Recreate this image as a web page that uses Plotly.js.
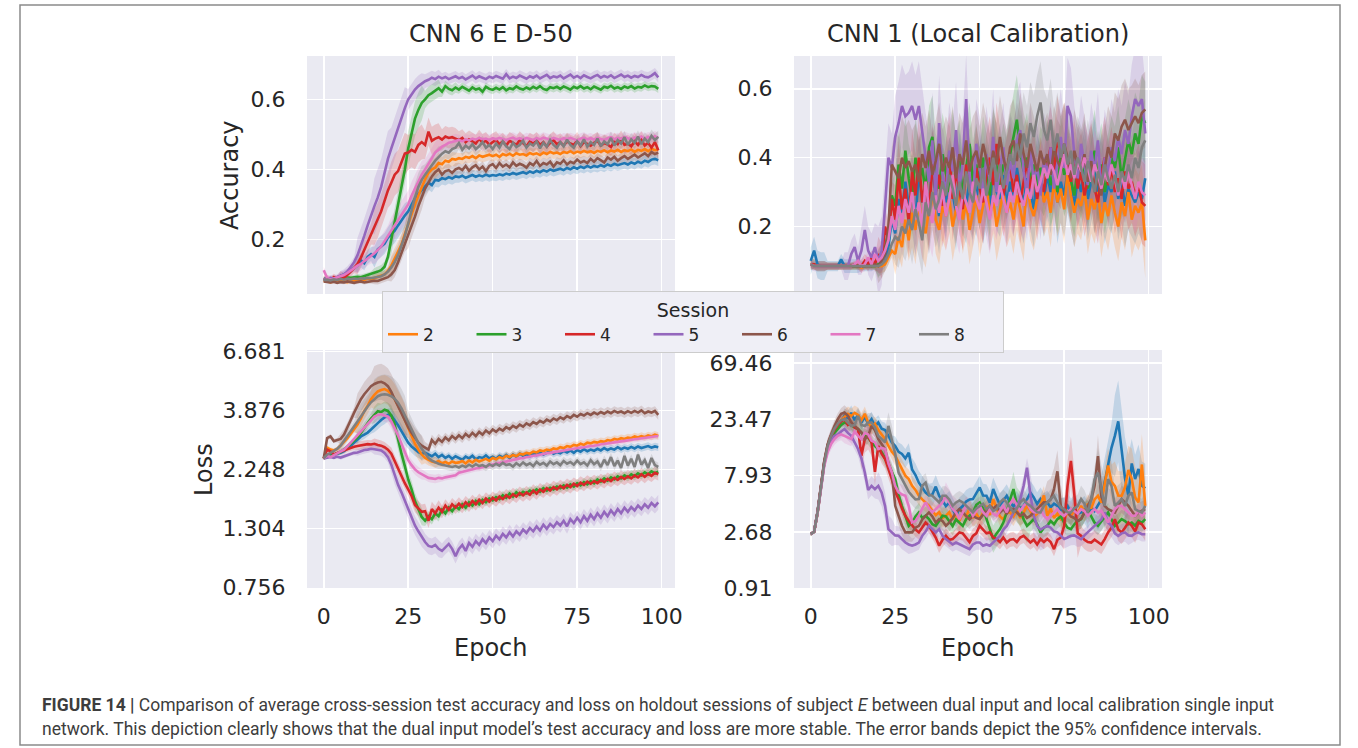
<!DOCTYPE html>
<html>
<head>
<meta charset="utf-8">
<script src="https://cdn.plot.ly/plotly-3.0.1.min.js"></script>
<style>
  html, body { margin: 0; padding: 0; background: #ffffff; }
  #chart { width: 1358px; height: 748px; }
</style>
</head>
<body>
<div id="chart"></div>
<script>
// Epoch index shared by every series
const epochs = [
  0,1,2,3,4,5,6,7,8,9,10,11,12,13,14,15,16,17,18,19,
  20,21,22,23,24,25,26,27,28,29,30,31,32,33,34,35,36,37,38,39,
  40,41,42,43,44,45,46,47,48,49,50,51,52,53,54,55,56,57,58,59,
  60,61,62,63,64,65,66,67,68,69,70,71,72,73,74,75,76,77,78,79,
  80,81,82,83,84,85,86,87,88,89,90,91,92,93,94,95,96,97,98,99
];
const sessions = ['1', '2', '3', '4', '5', '6', '7', '8'];

// ---- Test accuracy, dual input network (CNN 6 E D-50) ----
const accDualS1 = [
  0.085,0.082,0.084,0.088,0.090,0.094,0.100,0.105,0.112,0.118,
  0.125,0.140,0.132,0.150,0.158,0.150,0.172,0.180,0.188,0.205,
  0.215,0.225,0.240,0.255,0.268,0.280,0.300,0.318,0.330,0.340,
  0.350,0.362,0.355,0.370,0.368,0.375,0.372,0.378,0.374,0.380,
  0.378,0.382,0.376,0.380,0.384,0.379,0.383,0.380,0.385,0.381,
  0.384,0.382,0.386,0.383,0.388,0.385,0.390,0.386,0.389,0.392,
  0.388,0.394,0.390,0.396,0.392,0.398,0.394,0.400,0.396,0.399,
  0.402,0.398,0.404,0.400,0.406,0.402,0.408,0.404,0.410,0.405,
  0.410,0.407,0.412,0.408,0.414,0.410,0.416,0.412,0.415,0.418,
  0.414,0.420,0.416,0.422,0.418,0.425,0.421,0.428,0.430,0.426
];
const accDualS2 = [
  0.082,0.080,0.078,0.080,0.079,0.082,0.080,0.078,0.081,0.083,
  0.082,0.085,0.084,0.088,0.086,0.090,0.092,0.096,0.100,0.110,
  0.125,0.145,0.165,0.185,0.215,0.245,0.270,0.300,0.325,0.350,
  0.372,0.390,0.400,0.405,0.418,0.415,0.425,0.422,0.430,0.428,
  0.432,0.430,0.436,0.433,0.438,0.432,0.440,0.436,0.438,0.442,
  0.438,0.442,0.436,0.444,0.440,0.445,0.439,0.446,0.442,0.444,
  0.440,0.447,0.443,0.446,0.441,0.448,0.444,0.450,0.446,0.448,
  0.444,0.450,0.447,0.452,0.446,0.451,0.448,0.453,0.449,0.452,
  0.447,0.453,0.450,0.455,0.449,0.454,0.451,0.456,0.450,0.455,
  0.452,0.457,0.450,0.456,0.453,0.458,0.452,0.459,0.455,0.457
];
const accDualS3 = [
  0.088,0.086,0.085,0.087,0.088,0.090,0.089,0.091,0.090,0.092,
  0.093,0.092,0.095,0.097,0.100,0.103,0.108,0.112,0.122,0.150,
  0.198,0.250,0.300,0.345,0.400,0.460,0.500,0.545,0.570,0.590,
  0.600,0.612,0.618,0.625,0.632,0.622,0.638,0.630,0.626,0.634,
  0.628,0.636,0.630,0.625,0.634,0.628,0.631,0.622,0.636,0.630,
  0.627,0.633,0.628,0.635,0.626,0.632,0.629,0.637,0.631,0.628,
  0.634,0.629,0.636,0.631,0.638,0.630,0.627,0.635,0.632,0.636,
  0.630,0.637,0.633,0.628,0.636,0.632,0.638,0.631,0.635,0.629,
  0.637,0.632,0.628,0.636,0.633,0.639,0.631,0.635,0.630,0.637,
  0.633,0.638,0.631,0.636,0.634,0.640,0.635,0.638,0.637,0.630
];
const accDualS4 = [
  0.085,0.088,0.084,0.092,0.086,0.095,0.090,0.098,0.108,0.118,
  0.130,0.148,0.170,0.190,0.215,0.235,0.255,0.280,0.310,0.340,
  0.362,0.385,0.395,0.420,0.445,0.448,0.456,0.450,0.470,0.478,
  0.470,0.508,0.482,0.488,0.492,0.485,0.494,0.490,0.492,0.488,
  0.484,0.490,0.478,0.486,0.480,0.474,0.488,0.476,0.482,0.470,
  0.478,0.484,0.472,0.480,0.468,0.482,0.476,0.470,0.484,0.474,
  0.466,0.480,0.474,0.482,0.470,0.478,0.465,0.476,0.484,0.472,
  0.478,0.468,0.480,0.474,0.470,0.482,0.466,0.478,0.472,0.468,
  0.476,0.482,0.468,0.475,0.471,0.464,0.480,0.472,0.486,0.470,
  0.474,0.466,0.480,0.470,0.484,0.468,0.476,0.462,0.478,0.455
];
const accDualS5 = [
  0.088,0.085,0.090,0.088,0.092,0.095,0.100,0.108,0.120,0.135,
  0.155,0.180,0.210,0.240,0.270,0.295,0.320,0.350,0.390,0.430,
  0.460,0.490,0.520,0.550,0.575,0.600,0.615,0.628,0.638,0.645,
  0.652,0.656,0.662,0.658,0.665,0.660,0.664,0.658,0.662,0.666,
  0.660,0.664,0.657,0.663,0.668,0.660,0.666,0.662,0.658,0.665,
  0.661,0.667,0.662,0.659,0.672,0.660,0.665,0.661,0.668,0.663,
  0.659,0.666,0.662,0.668,0.660,0.665,0.670,0.661,0.666,0.663,
  0.668,0.660,0.665,0.671,0.662,0.667,0.661,0.669,0.664,0.660,
  0.666,0.670,0.662,0.667,0.663,0.669,0.661,0.666,0.671,0.664,
  0.668,0.662,0.667,0.664,0.670,0.665,0.663,0.668,0.675,0.663
];
const accDualS6 = [
  0.080,0.078,0.077,0.079,0.076,0.078,0.077,0.080,0.078,0.076,
  0.078,0.080,0.077,0.079,0.080,0.082,0.081,0.085,0.088,0.092,
  0.100,0.112,0.135,0.160,0.185,0.210,0.240,0.265,0.295,0.320,
  0.345,0.362,0.380,0.392,0.400,0.385,0.395,0.398,0.390,0.400,
  0.404,0.398,0.410,0.396,0.406,0.412,0.400,0.408,0.395,0.410,
  0.415,0.404,0.418,0.408,0.414,0.406,0.420,0.410,0.416,0.412,
  0.405,0.418,0.412,0.424,0.410,0.418,0.414,0.422,0.408,0.420,
  0.416,0.426,0.414,0.422,0.418,0.428,0.420,0.424,0.418,0.430,
  0.422,0.432,0.426,0.420,0.434,0.428,0.436,0.425,0.432,0.438,
  0.430,0.436,0.442,0.434,0.440,0.446,0.438,0.450,0.444,0.448
];
const accDualS7 = [
  0.112,0.090,0.085,0.088,0.090,0.094,0.098,0.104,0.110,0.118,
  0.125,0.130,0.138,0.145,0.152,0.160,0.170,0.180,0.195,0.210,
  0.225,0.240,0.255,0.268,0.282,0.300,0.325,0.345,0.365,0.385,
  0.400,0.418,0.432,0.448,0.458,0.465,0.470,0.476,0.478,0.482,
  0.484,0.480,0.486,0.483,0.488,0.485,0.490,0.486,0.488,0.484,
  0.489,0.486,0.490,0.487,0.484,0.488,0.491,0.486,0.489,0.485,
  0.490,0.487,0.484,0.489,0.486,0.491,0.488,0.485,0.490,0.487,
  0.484,0.489,0.486,0.490,0.487,0.483,0.488,0.491,0.486,0.489,
  0.485,0.490,0.487,0.484,0.489,0.492,0.486,0.490,0.487,0.493,
  0.489,0.486,0.491,0.488,0.494,0.487,0.492,0.489,0.495,0.490
];
const accDualS8 = [
  0.084,0.085,0.083,0.086,0.084,0.087,0.085,0.088,0.086,0.088,
  0.087,0.089,0.088,0.090,0.089,0.091,0.093,0.095,0.100,0.108,
  0.120,0.135,0.155,0.180,0.210,0.245,0.285,0.320,0.350,0.370,
  0.385,0.400,0.412,0.425,0.436,0.445,0.452,0.448,0.458,0.462,
  0.475,0.456,0.468,0.460,0.472,0.458,0.466,0.478,0.462,0.470,
  0.458,0.474,0.462,0.480,0.466,0.458,0.476,0.464,0.470,0.482,
  0.462,0.474,0.468,0.480,0.460,0.476,0.465,0.484,0.470,0.462,
  0.478,0.466,0.485,0.470,0.462,0.480,0.468,0.486,0.465,0.478,
  0.470,0.488,0.466,0.480,0.472,0.490,0.468,0.484,0.474,0.492,
  0.470,0.486,0.476,0.494,0.472,0.488,0.478,0.496,0.484,0.493
];
// 95% CI half-widths, one value per block of 5 epochs
const accDualCiS1 = [0.006,0.01,0.02,0.03,0.035,0.03,0.02,0.018,0.016,0.016,0.016,0.016,0.016,0.016,0.016,0.016,0.016,0.016,0.016,0.016];
const accDualCiS2 = [0.005,0.006,0.008,0.012,0.03,0.04,0.03,0.02,0.016,0.016,0.016,0.016,0.016,0.016,0.016,0.016,0.016,0.016,0.016,0.016];
const accDualCiS3 = [0.005,0.006,0.008,0.015,0.04,0.05,0.025,0.015,0.012,0.012,0.012,0.012,0.012,0.012,0.012,0.012,0.012,0.012,0.012,0.012];
const accDualCiS4 = [0.01,0.015,0.03,0.05,0.06,0.05,0.04,0.03,0.025,0.025,0.025,0.025,0.025,0.025,0.025,0.025,0.025,0.025,0.025,0.025];
const accDualCiS5 = [0.008,0.015,0.05,0.08,0.06,0.03,0.02,0.015,0.015,0.015,0.015,0.015,0.015,0.015,0.015,0.015,0.015,0.015,0.015,0.015];
const accDualCiS6 = [0.004,0.005,0.006,0.01,0.02,0.035,0.025,0.018,0.015,0.015,0.015,0.015,0.015,0.015,0.015,0.015,0.015,0.015,0.015,0.015];
const accDualCiS7 = [0.01,0.012,0.02,0.03,0.04,0.04,0.03,0.02,0.015,0.015,0.015,0.015,0.015,0.015,0.015,0.015,0.015,0.015,0.015,0.015];
const accDualCiS8 = [0.005,0.006,0.008,0.012,0.03,0.04,0.03,0.02,0.018,0.018,0.018,0.018,0.018,0.018,0.018,0.018,0.018,0.018,0.018,0.018];

// ---- Test accuracy, local calibration network (CNN 1) ----
const accLocalS1 = [
  0.10,0.13,0.09,0.085,0.085,0.085,0.085,0.085,0.085,0.105,
  0.085,0.085,0.085,0.085,0.085,0.085,0.085,0.085,0.085,0.09,
  0.085,0.09,0.10,0.14,0.22,0.18,0.28,0.24,0.33,0.26,
  0.30,0.22,0.36,0.27,0.31,0.25,0.38,0.29,0.23,0.33,
  0.27,0.35,0.30,0.24,0.37,0.29,0.26,0.34,0.31,0.28,
  0.36,0.27,0.32,0.25,0.39,0.30,0.28,0.35,0.26,0.33,
  0.29,0.37,0.31,0.27,0.34,0.30,0.25,0.36,0.32,0.28,
  0.35,0.30,0.38,0.27,0.33,0.29,0.36,0.31,0.26,0.34,
  0.30,0.37,0.28,0.33,0.40,0.29,0.35,0.27,0.32,0.30,
  0.36,0.28,0.33,0.26,0.31,0.29,0.27,0.30,0.28,0.34
];
const accLocalS2 = [
  0.09,0.085,0.085,0.085,0.085,0.085,0.085,0.085,0.085,0.085,
  0.085,0.085,0.085,0.085,0.085,0.08,0.085,0.085,0.085,0.085,
  0.085,0.085,0.09,0.11,0.13,0.12,0.17,0.14,0.22,0.16,
  0.24,0.19,0.27,0.21,0.18,0.25,0.30,0.22,0.19,0.26,
  0.23,0.28,0.20,0.25,0.31,0.22,0.27,0.19,0.24,0.29,
  0.21,0.26,0.33,0.23,0.28,0.20,0.25,0.30,0.24,0.27,
  0.22,0.29,0.25,0.20,0.32,0.26,0.23,0.28,0.35,0.27,
  0.30,0.24,0.33,0.27,0.31,0.25,0.36,0.29,0.24,0.28,
  0.26,0.31,0.22,0.28,0.25,0.30,0.21,0.27,0.23,0.29,
  0.24,0.20,0.27,0.23,0.30,0.22,0.26,0.24,0.27,0.16
];
const accLocalS3 = [
  0.09,0.09,0.085,0.085,0.085,0.085,0.085,0.085,0.085,0.085,
  0.085,0.085,0.085,0.085,0.085,0.085,0.085,0.09,0.085,0.085,
  0.09,0.11,0.14,0.18,0.29,0.26,0.38,0.31,0.42,0.34,
  0.28,0.40,0.33,0.37,0.30,0.43,0.46,0.35,0.31,0.41,
  0.36,0.30,0.42,0.34,0.39,0.29,0.37,0.44,0.33,0.38,
  0.31,0.40,0.35,0.29,0.43,0.37,0.32,0.38,0.34,0.41,
  0.46,0.51,0.42,0.36,0.40,0.33,0.38,0.31,0.37,0.35,
  0.39,0.32,0.36,0.30,0.41,0.35,0.38,0.33,0.29,0.37,
  0.34,0.39,0.31,0.36,0.42,0.33,0.38,0.30,0.35,0.40,
  0.37,0.43,0.34,0.39,0.45,0.41,0.47,0.44,0.52,0.50
];
const accLocalS4 = [
  0.09,0.09,0.085,0.085,0.085,0.085,0.085,0.085,0.085,0.085,
  0.085,0.085,0.085,0.09,0.085,0.085,0.10,0.09,0.11,0.09,
  0.12,0.10,0.20,0.16,0.28,0.22,0.35,0.25,0.31,0.21,
  0.36,0.29,0.40,0.27,0.33,0.24,0.38,0.30,0.35,0.26,
  0.32,0.41,0.28,0.36,0.30,0.25,0.38,0.33,0.29,0.37,
  0.31,0.27,0.35,0.40,0.32,0.44,0.36,0.29,0.34,0.38,
  0.30,0.35,0.27,0.33,0.39,0.31,0.36,0.28,0.34,0.30,
  0.38,0.43,0.36,0.46,0.40,0.44,0.37,0.33,0.39,0.31,
  0.36,0.29,0.34,0.38,0.31,0.27,0.35,0.40,0.32,0.37,
  0.30,0.34,0.28,0.36,0.31,0.33,0.29,0.32,0.27,0.26
];
const accLocalS5 = [
  0.09,0.085,0.085,0.085,0.085,0.085,0.085,0.085,0.085,0.085,
  0.085,0.085,0.12,0.14,0.10,0.13,0.19,0.13,0.11,0.14,
  0.10,0.13,0.26,0.40,0.37,0.46,0.50,0.55,0.52,0.53,
  0.55,0.51,0.55,0.47,0.40,0.33,0.45,0.28,0.50,0.35,
  0.30,0.42,0.36,0.48,0.31,0.39,0.57,0.34,0.27,0.44,
  0.38,0.29,0.41,0.33,0.46,0.30,0.37,0.43,0.32,0.39,
  0.34,0.45,0.48,0.36,0.30,0.42,0.33,0.38,0.29,0.40,
  0.35,0.43,0.31,0.39,0.46,0.37,0.55,0.52,0.41,0.34,
  0.44,0.38,0.32,0.42,0.36,0.45,0.30,0.40,0.35,0.43,
  0.39,0.46,0.41,0.48,0.44,0.52,0.57,0.55,0.57,0.47
];
const accLocalS6 = [
  0.09,0.085,0.085,0.085,0.085,0.085,0.085,0.085,0.085,0.085,
  0.085,0.085,0.085,0.085,0.085,0.085,0.085,0.085,0.085,0.09,
  0.085,0.10,0.12,0.20,0.38,0.36,0.34,0.40,0.37,0.39,
  0.36,0.38,0.33,0.41,0.37,0.42,0.35,0.39,0.44,0.36,
  0.40,0.37,0.43,0.34,0.41,0.38,0.45,0.36,0.40,0.42,
  0.37,0.44,0.39,0.35,0.42,0.38,0.46,0.40,0.36,0.43,
  0.45,0.39,0.47,0.41,0.37,0.44,0.40,0.36,0.42,0.38,
  0.41,0.35,0.43,0.39,0.37,0.44,0.40,0.34,0.42,0.38,
  0.36,0.41,0.33,0.39,0.30,0.34,0.29,0.37,0.43,0.40,
  0.47,0.45,0.49,0.51,0.48,0.50,0.52,0.50,0.53,0.54
];
const accLocalS7 = [
  0.09,0.085,0.085,0.085,0.085,0.085,0.085,0.085,0.085,0.085,
  0.085,0.085,0.085,0.09,0.10,0.085,0.09,0.11,0.09,0.12,
  0.10,0.11,0.13,0.16,0.23,0.19,0.26,0.21,0.28,0.24,
  0.30,0.22,0.27,0.20,0.33,0.25,0.21,0.29,0.24,0.31,
  0.23,0.28,0.35,0.26,0.22,0.30,0.27,0.24,0.33,0.28,
  0.25,0.31,0.27,0.22,0.29,0.26,0.32,0.28,0.24,0.30,
  0.27,0.33,0.29,0.26,0.31,0.28,0.35,0.30,0.33,0.37,
  0.34,0.38,0.36,0.32,0.37,0.41,0.35,0.38,0.34,0.39,
  0.36,0.40,0.37,0.33,0.38,0.35,0.31,0.36,0.33,0.38,
  0.34,0.29,0.35,0.31,0.36,0.32,0.28,0.33,0.30,0.29
];
const accLocalS8 = [
  0.09,0.085,0.085,0.085,0.085,0.085,0.085,0.085,0.085,0.085,
  0.085,0.085,0.085,0.085,0.085,0.085,0.085,0.085,0.085,0.085,
  0.085,0.09,0.10,0.12,0.15,0.17,0.16,0.20,0.18,0.22,
  0.19,0.25,0.21,0.16,0.27,0.23,0.30,0.25,0.28,0.33,
  0.29,0.35,0.31,0.26,0.33,0.28,0.36,0.30,0.27,0.34,
  0.31,0.37,0.29,0.34,0.40,0.33,0.38,0.31,0.36,0.41,
  0.38,0.44,0.40,0.47,0.43,0.50,0.46,0.52,0.56,0.48,
  0.45,0.51,0.42,0.47,0.40,0.44,0.38,0.42,0.35,0.40,
  0.37,0.33,0.39,0.34,0.30,0.36,0.32,0.38,0.34,0.31,
  0.35,0.30,0.36,0.33,0.38,0.34,0.40,0.37,0.43,0.45
];
const accLocalCiS1 = [0.04,0.015,0.02,0.015,0.02,0.08,0.11,0.11,0.11,0.11,0.12,0.11,0.12,0.11,0.12,0.12,0.12,0.12,0.12,0.12];
const accLocalCiS2 = [0.01,0.01,0.01,0.01,0.02,0.06,0.10,0.10,0.10,0.10,0.10,0.10,0.10,0.10,0.10,0.10,0.10,0.10,0.10,0.11];
const accLocalCiS3 = [0.015,0.01,0.01,0.01,0.04,0.10,0.12,0.12,0.12,0.12,0.12,0.12,0.13,0.12,0.12,0.12,0.12,0.12,0.12,0.12];
const accLocalCiS4 = [0.015,0.01,0.01,0.02,0.05,0.10,0.12,0.12,0.12,0.12,0.12,0.12,0.12,0.12,0.12,0.12,0.12,0.12,0.12,0.12];
const accLocalCiS5 = [0.015,0.01,0.04,0.07,0.10,0.12,0.13,0.14,0.14,0.13,0.14,0.13,0.14,0.13,0.14,0.14,0.14,0.14,0.14,0.15];
const accLocalCiS6 = [0.01,0.01,0.01,0.01,0.05,0.12,0.12,0.12,0.12,0.12,0.12,0.12,0.12,0.12,0.12,0.12,0.12,0.12,0.12,0.11];
const accLocalCiS7 = [0.01,0.01,0.01,0.02,0.04,0.09,0.10,0.10,0.10,0.10,0.10,0.10,0.10,0.10,0.10,0.10,0.10,0.10,0.10,0.10];
const accLocalCiS8 = [0.01,0.01,0.01,0.01,0.03,0.08,0.10,0.11,0.11,0.11,0.12,0.12,0.12,0.12,0.12,0.12,0.12,0.12,0.12,0.12];

// ---- Test loss, dual input network ----
const lossDualS1 = [
  2.49,2.55,2.58,2.56,2.60,2.62,2.66,2.72,2.80,2.88,
  2.97,3.05,3.10,3.16,3.25,3.36,3.45,3.55,3.62,3.72,
  3.70,3.55,3.38,3.20,3.02,2.88,2.78,2.70,2.64,2.60,
  2.62,2.58,2.54,2.60,2.52,2.57,2.50,2.55,2.48,2.54,
  2.50,2.46,2.53,2.49,2.55,2.47,2.52,2.50,2.56,2.49,
  2.53,2.48,2.55,2.51,2.57,2.50,2.58,2.53,2.60,2.55,
  2.59,2.54,2.61,2.57,2.63,2.58,2.62,2.66,2.60,2.64,
  2.61,2.67,2.63,2.68,2.62,2.69,2.65,2.71,2.66,2.70,
  2.67,2.72,2.68,2.74,2.69,2.73,2.70,2.76,2.71,2.75,
  2.72,2.77,2.73,2.78,2.74,2.76,2.79,2.75,2.78,2.76
];
const lossDualS2 = [
  2.49,2.75,2.70,2.68,2.72,2.80,2.90,3.00,3.12,3.25,
  3.40,3.60,3.85,4.05,4.30,4.48,4.62,4.68,4.72,4.65,
  4.50,4.30,4.08,3.82,3.55,3.28,3.05,2.85,2.70,2.58,
  2.50,2.45,2.42,2.40,2.43,2.38,2.41,2.37,2.42,2.39,
  2.40,2.43,2.38,2.44,2.40,2.46,2.42,2.45,2.48,2.44,
  2.50,2.47,2.52,2.49,2.55,2.52,2.57,2.54,2.60,2.58,
  2.62,2.60,2.65,2.63,2.68,2.66,2.70,2.68,2.73,2.71,
  2.76,2.74,2.79,2.77,2.82,2.80,2.85,2.82,2.88,2.86,
  2.90,2.88,2.92,2.90,2.95,2.93,2.98,2.96,3.00,2.98,
  3.02,3.00,3.05,3.02,3.06,3.03,3.08,3.05,3.10,3.06
];
const lossDualS3 = [
  2.49,2.52,2.55,2.58,2.60,2.64,2.70,2.78,2.86,2.94,
  3.02,3.15,3.28,3.45,3.60,3.72,3.85,3.82,3.90,3.86,
  3.70,3.40,2.96,2.60,2.32,2.05,1.87,1.68,1.56,1.45,
  1.40,1.46,1.42,1.50,1.46,1.55,1.50,1.58,1.53,1.60,
  1.56,1.63,1.58,1.66,1.61,1.68,1.63,1.70,1.66,1.72,
  1.69,1.74,1.71,1.77,1.73,1.80,1.75,1.82,1.78,1.83,
  1.80,1.85,1.82,1.87,1.83,1.89,1.85,1.90,1.87,1.92,
  1.89,1.94,1.90,1.96,1.92,1.98,1.94,2.00,1.96,2.02,
  1.98,2.05,2.01,2.07,2.03,2.09,2.05,2.11,2.07,2.13,
  2.09,2.15,2.11,2.17,2.13,2.19,2.15,2.21,2.17,2.20
];
const lossDualS4 = [
  2.49,2.70,2.66,2.58,2.62,2.65,2.68,2.72,2.75,2.77,
  2.79,2.81,2.83,2.84,2.83,2.85,2.82,2.80,2.76,2.70,
  2.60,2.42,2.28,2.12,1.98,1.87,1.76,1.62,1.57,1.52,
  1.53,1.40,1.56,1.50,1.58,1.52,1.61,1.55,1.63,1.58,
  1.64,1.59,1.66,1.61,1.68,1.63,1.70,1.65,1.72,1.67,
  1.73,1.69,1.75,1.71,1.77,1.73,1.79,1.75,1.81,1.77,
  1.82,1.78,1.85,1.80,1.87,1.83,1.89,1.85,1.91,1.87,
  1.93,1.89,1.95,1.91,1.97,1.93,1.99,1.95,2.01,1.97,
  2.02,1.98,2.04,2.00,2.06,2.02,2.08,2.04,2.10,2.06,
  2.11,2.07,2.13,2.09,2.15,2.10,2.16,2.12,2.18,2.15
];
const lossDualS5 = [
  2.49,2.50,2.52,2.50,2.53,2.51,2.54,2.57,2.60,2.62,
  2.63,2.66,2.69,2.70,2.72,2.71,2.70,2.68,2.62,2.52,
  2.35,2.12,1.95,1.82,1.68,1.56,1.44,1.34,1.27,1.20,
  1.15,1.11,1.10,1.12,1.08,1.06,1.10,1.13,1.08,1.01,
  1.08,1.12,1.06,1.14,1.10,1.16,1.12,1.18,1.14,1.20,
  1.16,1.22,1.18,1.24,1.20,1.26,1.21,1.27,1.23,1.29,
  1.25,1.31,1.27,1.33,1.28,1.35,1.30,1.36,1.32,1.38,
  1.34,1.40,1.33,1.42,1.37,1.44,1.38,1.46,1.40,1.48,
  1.42,1.50,1.44,1.52,1.46,1.54,1.48,1.56,1.50,1.58,
  1.52,1.59,1.54,1.61,1.56,1.63,1.58,1.65,1.60,1.66
];
const lossDualS6 = [
  2.49,3.00,3.05,2.92,2.95,2.98,3.10,3.30,3.55,3.80,
  4.05,4.30,4.50,4.68,4.85,4.95,5.02,5.05,4.98,4.85,
  4.60,4.30,4.02,3.75,3.52,3.32,3.15,3.00,2.88,2.80,
  2.76,2.70,2.95,2.85,2.98,2.90,3.02,2.94,3.06,2.98,
  3.08,3.00,3.12,3.04,3.15,3.06,3.18,3.10,3.22,3.14,
  3.25,3.18,3.28,3.22,3.32,3.26,3.36,3.30,3.40,3.34,
  3.44,3.38,3.48,3.42,3.52,3.46,3.56,3.50,3.60,3.54,
  3.64,3.58,3.68,3.62,3.72,3.66,3.75,3.70,3.78,3.72,
  3.80,3.74,3.82,3.76,3.84,3.78,3.86,3.80,3.84,3.78,
  3.85,3.79,3.86,3.80,3.88,3.78,3.84,3.80,3.86,3.72
];
const lossDualS7 = [
  2.49,2.55,2.52,2.56,2.60,2.64,2.70,2.78,2.88,2.98,
  3.08,3.20,3.30,3.42,3.55,3.66,3.72,3.74,3.70,3.66,
  3.50,3.30,3.08,2.85,2.62,2.45,2.34,2.25,2.19,2.15,
  2.12,2.08,2.07,2.06,2.08,2.07,2.09,2.10,2.12,2.13,
  2.18,2.20,2.22,2.23,2.25,2.27,2.28,2.30,2.32,2.33,
  2.36,2.37,2.39,2.40,2.42,2.44,2.45,2.47,2.49,2.50,
  2.52,2.53,2.55,2.56,2.58,2.59,2.61,2.62,2.64,2.65,
  2.66,2.68,2.69,2.71,2.72,2.74,2.75,2.76,2.78,2.79,
  2.80,2.82,2.83,2.85,2.86,2.87,2.89,2.90,2.92,2.93,
  2.94,2.96,2.97,2.98,3.00,3.01,3.03,3.04,3.05,3.06
];
const lossDualS8 = [
  2.49,2.58,2.62,2.66,2.72,2.80,2.92,3.05,3.20,3.35,
  3.50,3.68,3.85,4.02,4.18,4.32,4.42,4.48,4.50,4.48,
  4.42,4.32,4.16,3.95,3.70,3.45,3.22,3.02,2.86,2.72,
  2.60,2.50,2.44,2.40,2.37,2.35,2.33,2.31,2.30,2.32,
  2.29,2.33,2.30,2.35,2.31,2.36,2.32,2.34,2.30,2.36,
  2.32,2.37,2.33,2.39,2.34,2.36,2.31,2.38,2.33,2.40,
  2.34,2.38,2.32,2.41,2.35,2.39,2.33,2.42,2.36,2.40,
  2.34,2.43,2.37,2.41,2.35,2.44,2.36,2.40,2.33,2.45,
  2.36,2.42,2.30,2.46,2.34,2.52,2.32,2.44,2.28,2.55,
  2.33,2.48,2.30,2.58,2.35,2.45,2.28,2.50,2.34,2.30
];
// multiplicative 95% CI factors (log axis), one per block of 5 epochs
const lossDualCiS1 = [1.01,1.02,1.04,1.06,1.07,1.06,1.04,1.035,1.035,1.035,1.035,1.035,1.035,1.035,1.035,1.035,1.035,1.035,1.035,1.035];
const lossDualCiS2 = [1.02,1.03,1.08,1.14,1.15,1.10,1.05,1.035,1.035,1.035,1.035,1.035,1.035,1.035,1.035,1.035,1.035,1.035,1.035,1.035];
const lossDualCiS3 = [1.01,1.02,1.05,1.08,1.10,1.08,1.05,1.04,1.04,1.04,1.04,1.04,1.04,1.04,1.04,1.04,1.04,1.04,1.04,1.04];
const lossDualCiS4 = [1.02,1.03,1.04,1.05,1.06,1.07,1.07,1.06,1.06,1.06,1.06,1.06,1.06,1.06,1.06,1.06,1.06,1.06,1.06,1.06];
const lossDualCiS5 = [1.01,1.02,1.03,1.05,1.08,1.09,1.08,1.07,1.07,1.07,1.07,1.07,1.07,1.07,1.07,1.07,1.07,1.07,1.07,1.07];
const lossDualCiS6 = [1.02,1.05,1.12,1.18,1.18,1.10,1.05,1.045,1.045,1.045,1.045,1.045,1.045,1.045,1.045,1.045,1.045,1.045,1.045,1.045];
const lossDualCiS7 = [1.01,1.02,1.04,1.06,1.07,1.05,1.04,1.03,1.03,1.03,1.03,1.03,1.03,1.03,1.03,1.03,1.03,1.03,1.03,1.03];
const lossDualCiS8 = [1.02,1.05,1.12,1.20,1.20,1.12,1.05,1.04,1.04,1.04,1.04,1.04,1.04,1.04,1.04,1.04,1.04,1.04,1.04,1.04];

// ---- Test loss, local calibration network ----
const lossLocalS1 = [
  2.56,2.68,3.9,6.5,10.2,14.0,16.5,18.5,20.5,22.5,
  25.0,24.0,26.5,23.0,25.5,22.0,24.5,21.5,23.5,20.5,
  22.0,19.5,19.0,17.0,15.0,14.0,12.5,12.0,11.0,12.3,
  8.9,8.0,6.9,6.3,5.7,5.4,5.5,6.4,5.36,4.9,
  4.4,4.7,4.2,3.65,4.15,4.4,4.8,5.0,5.03,5.6,
  6.3,5.4,5.36,4.7,6.1,5.2,4.5,4.9,5.36,4.7,
  4.4,4.7,4.2,4.4,5.0,5.7,5.2,4.6,5.03,4.5,
  4.72,4.3,4.6,4.42,4.1,4.0,4.4,3.9,4.2,3.8,
  3.89,4.1,3.7,4.3,4.0,4.42,5.0,7.0,10.0,13.5,
  17.0,22.5,13.0,7.5,5.4,10.0,7.4,9.0,6.5,6.2
];
const lossLocalS2 = [
  2.56,2.68,3.8,6.3,10.0,13.5,16.0,18.5,21.0,23.0,
  24.5,26.0,25.0,26.5,25.5,23.0,26.0,22.0,20.0,21.5,
  19.0,17.5,16.0,14.0,12.5,11.6,10.2,9.0,7.9,7.4,
  6.5,6.0,5.36,5.0,4.7,4.42,4.0,3.7,3.9,3.5,
  3.65,3.9,3.4,3.8,3.3,3.89,3.6,4.2,3.5,3.8,
  3.42,3.9,4.4,3.7,5.03,4.2,3.6,3.4,3.9,3.89,
  3.6,4.1,3.5,3.9,4.42,4.0,3.6,3.8,4.6,5.4,
  3.65,4.2,3.5,3.8,3.4,3.42,3.9,3.6,4.1,3.8,
  4.42,3.9,4.6,4.2,5.0,5.36,4.7,6.5,9.6,7.0,
  6.5,5.4,5.36,6.3,8.8,7.4,5.2,4.72,9.8,4.42
];
const lossLocalS3 = [
  2.56,2.68,3.85,6.4,10.0,13.8,16.2,18.0,19.5,21.0,
  22.0,21.5,20.8,20.0,19.4,18.0,17.0,16.5,15.0,14.0,
  13.2,12.4,11.0,9.5,8.5,7.4,5.5,4.4,3.6,3.0,
  3.2,3.6,3.89,3.5,3.65,3.42,3.1,3.0,3.3,3.65,
  3.6,3.3,3.0,3.4,3.2,3.0,3.42,3.65,3.89,4.5,
  4.72,4.2,3.42,2.8,2.33,2.6,2.82,3.2,3.89,5.0,
  6.1,4.5,4.15,3.4,3.0,3.2,3.42,3.1,2.65,2.9,
  3.01,3.3,3.1,3.42,3.6,3.2,2.9,2.82,3.1,3.3,
  3.42,3.9,4.15,3.6,3.2,3.01,3.3,3.6,3.89,3.4,
  3.01,3.2,3.42,3.3,3.1,3.2,3.01,3.3,3.2,3.42
];
const lossLocalS4 = [
  2.56,2.68,3.9,6.5,10.3,14.2,17.0,19.0,21.0,22.5,
  23.5,21.0,22.0,20.0,19.4,11.6,16.0,17.0,15.0,8.5,
  14.0,12.0,10.9,9.0,7.4,5.8,5.03,4.2,3.65,3.3,
  3.01,2.8,2.65,2.9,3.2,3.01,2.7,2.4,2.05,2.3,
  2.48,2.3,2.33,2.5,2.65,2.6,2.4,2.2,2.48,2.6,
  3.01,2.8,2.6,2.65,2.4,2.33,2.2,2.4,2.18,2.3,
  2.33,2.2,2.4,2.48,2.3,2.18,2.3,2.1,2.33,2.2,
  2.33,2.2,1.92,2.3,2.4,3.0,6.5,10.5,5.5,2.6,
  2.48,2.3,2.2,2.18,2.3,2.18,2.1,2.33,2.65,2.9,
  3.42,2.8,2.65,2.9,3.2,3.01,2.7,3.2,3.1,2.82
];
const lossLocalS5 = [
  2.56,2.68,3.85,6.3,9.8,13.0,15.5,17.0,17.5,18.5,
  19.4,18.0,17.0,15.0,13.2,11.0,8.4,6.0,6.5,6.1,
  6.5,5.7,4.4,2.82,2.65,2.5,2.48,2.3,2.18,2.1,
  2.05,2.1,2.18,2.48,2.7,3.01,2.82,2.65,2.82,2.48,
  2.33,2.2,2.1,2.18,2.1,2.05,1.98,1.92,2.1,2.18,
  2.18,2.05,2.1,2.05,2.2,2.33,2.48,2.8,3.0,3.4,
  3.9,4.4,5.0,6.5,9.2,5.5,3.65,3.0,2.8,2.9,
  3.01,2.9,2.7,2.65,2.5,2.33,2.4,2.48,2.5,2.4,
  2.33,2.5,2.65,2.8,3.01,3.2,3.4,3.89,3.2,3.01,
  2.6,2.48,2.6,2.65,2.5,2.48,2.6,2.65,2.56,2.56
];
const lossLocalS6 = [
  2.56,2.68,3.9,6.6,10.5,14.5,17.5,20.5,23.5,26.0,
  26.7,25.0,22.0,20.6,19.4,18.2,16.0,17.0,20.6,19.0,
  16.0,14.5,13.2,10.0,8.4,4.42,3.6,3.01,2.65,2.65,
  2.65,2.9,3.01,3.4,3.65,3.89,3.6,3.2,3.42,3.3,
  3.01,3.2,3.5,3.9,4.15,3.89,3.6,3.4,3.65,3.5,
  3.42,3.7,4.0,4.42,4.2,4.42,3.9,4.15,3.8,4.15,
  4.15,3.9,3.65,3.8,3.5,3.65,3.9,4.2,4.5,4.72,
  4.72,5.0,6.1,8.6,4.42,3.9,3.89,3.6,3.5,3.3,
  3.42,3.9,4.42,5.0,6.5,11.5,5.36,4.4,4.15,4.0,
  3.89,4.4,5.03,4.72,4.42,4.0,3.65,3.9,4.0,4.15
];
const lossLocalS7 = [
  2.56,2.68,3.8,6.2,9.5,12.5,14.5,16.0,17.0,17.5,
  17.0,16.5,16.0,18.5,17.0,16.0,18.0,17.5,15.5,15.0,
  13.2,13.5,13.2,10.0,8.4,6.5,5.72,5.5,5.36,4.4,
  3.21,3.3,3.65,4.2,4.72,4.2,3.89,4.15,4.42,4.72,
  5.36,4.72,4.15,3.89,3.42,3.9,4.42,4.15,3.65,4.0,
  4.42,3.9,3.65,4.15,3.8,3.65,4.0,4.42,3.9,4.6,
  5.03,4.42,4.0,4.42,4.72,4.15,3.9,3.89,4.15,3.65,
  3.42,3.65,3.89,4.15,3.8,3.65,3.9,4.15,4.0,3.8,
  4.15,4.0,3.65,3.89,4.15,3.89,4.0,3.6,3.21,3.65,
  4.15,4.4,4.42,4.15,3.9,3.65,3.65,4.0,3.65,3.89
];
const lossLocalS8 = [
  2.56,2.68,3.85,6.4,10.0,14.0,17.0,19.5,21.5,23.0,
  23.5,22.0,20.6,21.0,25.0,21.0,20.6,22.0,22.0,20.0,
  17.0,16.0,15.0,20.6,16.0,12.0,8.4,7.4,6.5,5.8,
  5.36,5.0,5.03,6.5,6.9,5.5,5.36,5.03,4.72,5.36,
  5.36,5.0,4.42,4.72,4.9,4.72,4.4,4.15,3.89,4.2,
  4.42,4.6,4.15,4.4,4.0,4.15,4.72,5.03,4.72,4.3,
  3.89,4.2,4.72,5.03,4.6,4.42,4.15,3.9,3.89,4.42,
  4.72,5.0,5.36,4.72,4.3,4.15,3.9,3.89,4.2,4.4,
  5.03,4.6,3.89,5.0,7.4,8.4,6.1,4.42,7.4,6.5,
  4.42,4.72,5.03,4.42,5.36,5.72,4.15,4.0,3.89,4.42
];
const lossLocalCiS1 = [1.03,1.12,1.15,1.15,1.15,1.2,1.25,1.25,1.25,1.25,1.25,1.25,1.25,1.25,1.25,1.3,1.3,1.6,2.2,1.6];
const lossLocalCiS2 = [1.03,1.12,1.15,1.15,1.15,1.2,1.2,1.2,1.2,1.2,1.2,1.2,1.2,1.2,1.2,1.2,1.2,1.4,1.6,1.8];
const lossLocalCiS3 = [1.03,1.12,1.12,1.15,1.15,1.2,1.2,1.2,1.2,1.2,1.3,1.3,1.4,1.2,1.2,1.2,1.2,1.2,1.2,1.2];
const lossLocalCiS4 = [1.03,1.12,1.15,1.3,1.2,1.15,1.15,1.15,1.15,1.15,1.15,1.15,1.15,1.15,1.15,1.6,1.2,1.2,1.25,1.25];
const lossLocalCiS5 = [1.03,1.12,1.15,1.2,1.3,1.2,1.15,1.15,1.15,1.15,1.15,1.15,1.2,1.5,1.2,1.2,1.15,1.25,1.2,1.15];
const lossLocalCiS6 = [1.03,1.12,1.15,1.15,1.2,1.2,1.2,1.2,1.2,1.2,1.2,1.2,1.2,1.2,1.5,1.2,1.2,1.5,1.3,1.2];
const lossLocalCiS7 = [1.03,1.12,1.15,1.15,1.15,1.2,1.15,1.2,1.3,1.2,1.15,1.15,1.15,1.15,1.15,1.15,1.15,1.15,1.15,1.15];
const lossLocalCiS8 = [1.03,1.12,1.15,1.2,1.3,1.2,1.2,1.2,1.2,1.2,1.2,1.2,1.2,1.2,1.2,1.25,1.3,1.6,1.4,1.3];

// Log-axis tick labels
const lossDualTicks = [0.756, 1.304, 2.248, 3.876, 6.681];
const lossDualTickText = ['0.756', '1.304', '2.248', '3.876', '6.681'];
const lossLocalTicks = [0.91, 2.68, 7.93, 23.47, 69.46];
const lossLocalTickText = ['0.91', '2.68', '7.93', '23.47', '69.46'];
const epochTicks = [0, 25, 50, 75, 100];
const accTicks = [0.2, 0.4, 0.6];

// ---- styling ----
const palette = ['#1f77b4', '#ff7f0e', '#2ca02c', '#d62728', '#9467bd', '#8c564b', '#e377c2', '#7f7f7f'];
const W = 1358, H = 748;
const fx = p => p / W;          // pixel -> paper x
const fy = p => 1 - p / H;      // pixel -> paper y
const ink = '#262626';
const fam = 'DejaVu Sans, Verdana, sans-serif';

function rgba(hex, a) {
  const n = parseInt(hex.slice(1), 16);
  return 'rgba(' + ((n >> 16) & 255) + ',' + ((n >> 8) & 255) + ',' + (n & 255) + ',' + a + ')';
}

const panels = [
  { xa: 'x',  ya: 'y',  log: false,
    series: [accDualS1, accDualS2, accDualS3, accDualS4, accDualS5, accDualS6, accDualS7, accDualS8],
    ci: [accDualCiS1, accDualCiS2, accDualCiS3, accDualCiS4, accDualCiS5, accDualCiS6, accDualCiS7, accDualCiS8] },
  { xa: 'x2', ya: 'y2', log: false,
    series: [accLocalS1, accLocalS2, accLocalS3, accLocalS4, accLocalS5, accLocalS6, accLocalS7, accLocalS8],
    ci: [accLocalCiS1, accLocalCiS2, accLocalCiS3, accLocalCiS4, accLocalCiS5, accLocalCiS6, accLocalCiS7, accLocalCiS8] },
  { xa: 'x3', ya: 'y3', log: true,
    series: [lossDualS1, lossDualS2, lossDualS3, lossDualS4, lossDualS5, lossDualS6, lossDualS7, lossDualS8],
    ci: [lossDualCiS1, lossDualCiS2, lossDualCiS3, lossDualCiS4, lossDualCiS5, lossDualCiS6, lossDualCiS7, lossDualCiS8] },
  { xa: 'x4', ya: 'y4', log: true,
    series: [lossLocalS1, lossLocalS2, lossLocalS3, lossLocalS4, lossLocalS5, lossLocalS6, lossLocalS7, lossLocalS8],
    ci: [lossLocalCiS1, lossLocalCiS2, lossLocalCiS3, lossLocalCiS4, lossLocalCiS5, lossLocalCiS6, lossLocalCiS7, lossLocalCiS8] }
];

const traces = [];
panels.forEach((p, pi) => {
  // confidence bands underneath
  p.series.forEach((y, si) => {
    const up = [], lo = [];
    y.forEach((v, i) => {
      const w = p.ci[si][Math.floor(i / 5)];
      if (p.log) { up.push(v * w); lo.push(v / w); }
      else { up.push(v + w); lo.push(v - w); }
    });
    traces.push({
      type: 'scatter', mode: 'lines', xaxis: p.xa, yaxis: p.ya,
      x: epochs.concat(epochs.slice().reverse()),
      y: up.concat(lo.slice().reverse()),
      fill: 'toself', fillcolor: rgba(palette[si], 0.2),
      line: { width: 0, color: rgba(palette[si], 0) },
      hoverinfo: 'skip', showlegend: false
    });
  });
  // mean curves on top
  p.series.forEach((y, si) => {
    traces.push({
      type: 'scatter', mode: 'lines', xaxis: p.xa, yaxis: p.ya,
      x: epochs, y: y, name: sessions[si], legendgroup: sessions[si],
      line: { color: palette[si], width: 2.6 },
      showlegend: pi === 0 && si > 0
    });
  });
});

const tickFont = { family: fam, size: 22, color: ink };
const xBase = {
  range: [-4.95, 103.95], tickvals: epochTicks, showgrid: true, gridcolor: '#ffffff', gridwidth: 1.6,
  zeroline: false, showline: false, ticks: 'outside', ticklen: 0, tickfont: tickFont,
  ticklabelstandoff: 9, fixedrange: true
};
const yBase = {
  showgrid: true, gridcolor: '#ffffff', gridwidth: 1.6, zeroline: false, showline: false,
  ticks: 'outside', ticklen: 0, tickfont: tickFont, ticklabelstandoff: 16, fixedrange: true
};
const leftDom = [fx(307), fx(675)];
const rightDom = [fx(794), fx(1162)];
const topDom = [fy(294), fy(56)];
const botDom = [fy(588), fy(350)];

const annFont = { family: fam, size: 24, color: ink };
const capFont = { family: 'Roboto, Liberation Sans, sans-serif', size: 17.5, color: '#3d3d3d' };

const layout = {
  width: W, height: H,
  margin: { l: 0, r: 0, t: 0, b: 0 },
  paper_bgcolor: '#ffffff', plot_bgcolor: '#eaeaf2',
  xaxis:  Object.assign({}, xBase, { domain: leftDom,  anchor: 'y',  showticklabels: false }),
  xaxis2: Object.assign({}, xBase, { domain: rightDom, anchor: 'y2', showticklabels: false }),
  xaxis3: Object.assign({}, xBase, { domain: leftDom,  anchor: 'y3' }),
  xaxis4: Object.assign({}, xBase, { domain: rightDom, anchor: 'y4' }),
  yaxis:  Object.assign({}, yBase, { domain: topDom, anchor: 'x',  range: [0.044, 0.724], tickvals: accTicks }),
  yaxis2: Object.assign({}, yBase, { domain: topDom, anchor: 'x2', range: [0.004, 0.695], tickvals: accTicks }),
  yaxis3: Object.assign({}, yBase, { domain: botDom, anchor: 'x3', type: 'log', range: [-0.1235, 0.8308],
                                     tickvals: lossDualTicks, ticktext: lossDualTickText }),
  yaxis4: Object.assign({}, yBase, { domain: botDom, anchor: 'x4', type: 'log', range: [-0.042, 1.949],
                                     tickvals: lossLocalTicks, ticktext: lossLocalTickText }),
  showlegend: true,
  legend: {
    orientation: 'h', x: fx(382), y: fy(291), xanchor: 'left', yanchor: 'top',
    bgcolor: 'rgba(238,238,245,0.95)', bordercolor: '#cccccc', borderwidth: 1,
    font: { family: fam, size: 17, color: ink },
    title: { text: 'Session', side: 'top center', font: { family: fam, size: 19, color: ink } },
    entrywidth: 43.5, entrywidthmode: 'pixels', itemwidth: 30, traceorder: 'normal'
  },
  annotations: [
    { text: 'CNN 6 E D-50', x: fx(491), y: fy(34), xref: 'paper', yref: 'paper',
      xanchor: 'center', yanchor: 'middle', showarrow: false, font: annFont },
    { text: 'CNN 1 (Local Calibration)', x: fx(978), y: fy(34), xref: 'paper', yref: 'paper',
      xanchor: 'center', yanchor: 'middle', showarrow: false, font: annFont },
    { text: 'Accuracy', x: fx(230), y: fy(175), xref: 'paper', yref: 'paper', textangle: -90,
      xanchor: 'center', yanchor: 'middle', showarrow: false, font: annFont },
    { text: 'Loss', x: fx(204), y: fy(470), xref: 'paper', yref: 'paper', textangle: -90,
      xanchor: 'center', yanchor: 'middle', showarrow: false, font: annFont },
    { text: 'Epoch', x: fx(491), y: fy(648), xref: 'paper', yref: 'paper',
      xanchor: 'center', yanchor: 'middle', showarrow: false, font: annFont },
    { text: 'Epoch', x: fx(978), y: fy(648), xref: 'paper', yref: 'paper',
      xanchor: 'center', yanchor: 'middle', showarrow: false, font: annFont },
    { text: '<b>FIGURE 14 |</b> Comparison of average cross-session test accuracy and loss on holdout sessions of subject <i>E</i> between dual input and local calibration single input',
      x: fx(40), y: fy(705), xref: 'paper', yref: 'paper', xanchor: 'left', yanchor: 'middle',
      showarrow: false, font: capFont, align: 'left' },
    { text: 'network. This depiction clearly shows that the dual input model\u2019s test accuracy and loss are more stable. The error bands depict the 95% confidence intervals.',
      x: fx(40), y: fy(729), xref: 'paper', yref: 'paper', xanchor: 'left', yanchor: 'middle',
      showarrow: false, font: capFont, align: 'left' }
  ],
  shapes: [
    { type: 'rect', xref: 'paper', yref: 'paper', x0: fx(20), x1: fx(1340), y0: fy(745), y1: fy(5),
      line: { color: '#8a8a8a', width: 1.5 }, fillcolor: 'rgba(0,0,0,0)', layer: 'below' }
  ]
};

Plotly.newPlot('chart', traces, layout, { staticPlot: true, displayModeBar: false });
</script>
</body>
</html>
